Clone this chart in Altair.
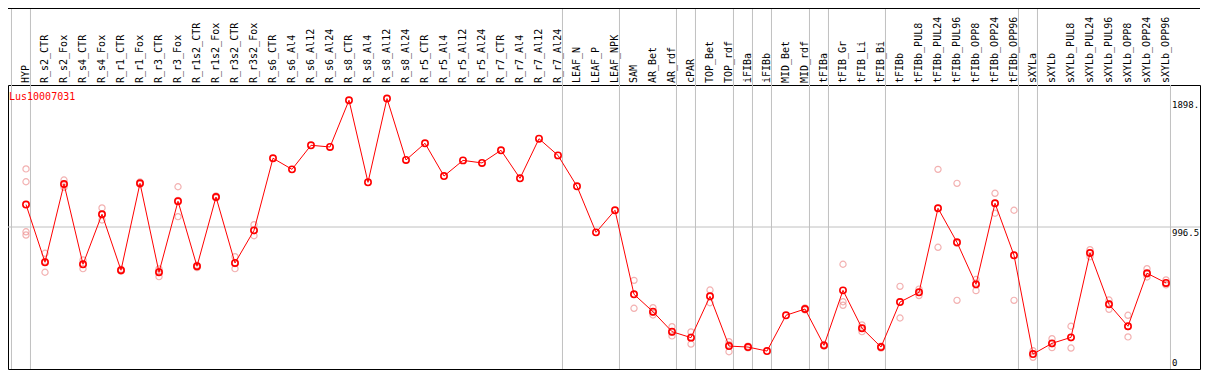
import altair as alt
import pandas as pd

gene = "Lus10007031"

categories = [
    "HYP", "R_s2_CTR", "R_s2_Fox", "R_s4_CTR", "R_s4_Fox", "R_r1_CTR", "R_r1_Fox",
    "R_r3_CTR", "R_r3_Fox", "R_r1s2_CTR", "R_r1s2_Fox", "R_r3s2_CTR", "R_r3s2_Fox",
    "R_s6_CTR", "R_s6_Al4", "R_s6_Al12", "R_s6_Al24", "R_s8_CTR", "R_s8_Al4",
    "R_s8_Al12", "R_s8_Al24", "R_r5_CTR", "R_r5_Al4", "R_r5_Al12", "R_r5_Al24",
    "R_r7_CTR", "R_r7_Al4", "R_r7_Al12", "R_r7_Al24", "LEAF_N", "LEAF_P", "LEAF_NPK",
    "SAM", "AR_Bet", "AR_rdf", "cPAR", "TOP_Bet", "TOP_rdf", "iFIBa", "iFIBb",
    "MID_Bet", "MID_rdf", "tFIBa", "tFIB_Gr", "tFIB_Li", "tFIB_Bi", "tFIBb",
    "tFIBb_PUL8", "tFIBb_PUL24", "tFIBb_PUL96", "tFIBb_OPP8", "tFIBb_OPP24",
    "tFIBb_OPP96", "sXYLa", "sXYLb", "sXYLb_PUL8", "sXYLb_PUL24", "sXYLb_PUL96",
    "sXYLb_OPP8", "sXYLb_OPP24", "sXYLb_OPP96",
]

means = [
    1154, 749, 1298, 735, 1086, 693, 1303, 679, 1177, 721, 1207, 744, 973,
    1479, 1401, 1570, 1558, 1886, 1310, 1898, 1467, 1584, 1354, 1464, 1446,
    1535, 1338, 1616, 1499, 1282, 959, 1114,
    524, 402, 262, 220, 510, 161, 154, 126, 377, 421, 166, 552, 286, 154, 470,
    538, 1128, 889, 594, 1163, 798, 105, 180, 222, 814, 454, 300, 672, 604,
]

N = None
rep_a = [1404, 812, 1326, 765, 1130, 700, 1312, 648, 1279, 728, 1214, 788, 1013,
         N, N, N, N, N, N, N, N, N, N, N, N, N, N, N, N, N, N, N,
         622, 430, 297, 260, 554, 192, 160, N, N, 428, 172, 735, 309, 160, 580,
         561, 1401, 1303, 629, 1233, 1114, 82, 213, 300, 837, 484, 377, 704, 625]
rep_b = [1314, 679, 1293, 704, 1046, 686, 1296, 702, 1069, 712, 1200, 704, 935,
         N, N, N, N, N, N, N, N, N, N, N, N, N, N, N, N, N, N, N,
         426, 379, 232, 175, 465, 121, 148, N, N, 414, 160, 472, 262, 147, 358,
         515, 854, 482, 550, 1093, 482, 128, 150, 147, 788, 419, 225, 646, 590]
rep_c = [963, 756, 1275, 736, 1082, 693, 1301, 687, 1183, 723, 1207, 740, 971,
         N, N, N, N, N, N, N, N, N, N, N, N, N, N, N, N, N, N, N,
         524, 397, 257, 225, 511, 170, 154, N, N, 421, 166, 447, 287, 155, 472,
         538, 1129, 882, 603, 1163, 798, 105, 177, 219, 817, 459, 298, 666, 597]
rep_d = [940] + [N] * 60

# group boundaries (vertical separators) after these category indices
group_ends = [0, 1, 29, 32, 35, 36, 38, 39, 40, 42, 43, 46, 53, 54]
last_end = [61]

axis_values = [1898, 996.5]
axis_labels = ["1898.", "996.5"]
zero_value = [0]
zero_label = ["0"]

FONT = "DejaVu Sans Mono"
W, H = 1192, 284

idx = list(range(1, len(categories) + 1))
df_mean = pd.DataFrame({"idx": idx, "cat": categories, "mean": means})
rows = []
for arr in (rep_a, rep_b, rep_c, rep_d):
    for i, v in zip(idx, arr):
        if v is not None:
            rows.append({"idx": i, "rep": v})
df_rep = pd.DataFrame(rows)

xscale = alt.Scale(domain=[0, 62], range=[-1, 1177], nice=False, zero=False)
yscale = alt.Scale(domain=[0, 1993], nice=False, zero=True)

grid_df = pd.DataFrame({"g": [e + 0.235 for e in group_ends]})
last_df = pd.DataFrame({"g": [e + 0.235 for e in last_end]})

vgrid = alt.Chart(grid_df).mark_rule(color="#c0c0c0", strokeWidth=1).encode(
    x=alt.X("g:Q", scale=xscale, axis=None),
    y=alt.value(-77), y2=alt.value(H),
)
vlast = alt.Chart(last_df).mark_rule(color="#c0c0c0", strokeWidth=1).encode(
    x=alt.X("g:Q", scale=xscale, axis=None),
    y=alt.value(0), y2=alt.value(H),
)
hgrid = alt.Chart(pd.DataFrame({"v": [996.5]})).mark_rule(color="#c0c0c0", strokeWidth=1).encode(
    y=alt.Y("v:Q", scale=yscale, axis=None),
    x=alt.value(0), x2=alt.value(W),
)
top_border = alt.Chart(pd.DataFrame({"v": [0]})).mark_rule(color="black", strokeWidth=1).encode(
    x=alt.value(0), x2=alt.value(W), y=alt.value(-76.5),
)

cat_labels = alt.Chart(df_mean).mark_text(
    angle=270, align="left", baseline="middle", color="black", font=FONT, fontSize=10
).encode(
    x=alt.X("idx:Q", scale=xscale, axis=None),
    y=alt.value(-2),
    text="cat:N",
)

reps = alt.Chart(df_rep).mark_point(
    shape="circle", filled=False, color="#ee9090", size=38, strokeWidth=1.2
).encode(
    x=alt.X("idx:Q", scale=xscale, axis=None),
    y=alt.Y("rep:Q", scale=yscale, axis=None),
)

line = alt.Chart(df_mean).mark_line(color="#ff0000", strokeWidth=1).encode(
    x=alt.X("idx:Q", scale=xscale, axis=None),
    y=alt.Y("mean:Q", scale=yscale, axis=None),
    order="idx:Q",
)

pts = alt.Chart(df_mean).mark_point(
    shape="circle", filled=False, color="#ff0000", size=40, strokeWidth=1.6, opacity=1
).encode(
    x=alt.X("idx:Q", scale=xscale, axis=None),
    y=alt.Y("mean:Q", scale=yscale, axis=None),
)

title = alt.Chart(pd.DataFrame({"t": [gene]})).mark_text(
    align="left", baseline="alphabetic", color="#ff0000", font=FONT, fontSize=10
).encode(x=alt.value(1), y=alt.value(15), text="t:N")

ylab = alt.Chart(pd.DataFrame({"v": axis_values, "l": axis_labels})).mark_text(
    align="left", baseline="top", color="black", font=FONT, fontSize=9, dy=2
).encode(
    x=alt.value(1164),
    y=alt.Y("v:Q", scale=yscale, axis=None),
    text="l:N",
)
ylab0 = alt.Chart(pd.DataFrame({"v": zero_value, "l": zero_label})).mark_text(
    align="left", baseline="alphabetic", color="black", font=FONT, fontSize=9, dy=-3
).encode(
    x=alt.value(1164),
    y=alt.Y("v:Q", scale=yscale, axis=None),
    text="l:N",
)

chart = alt.layer(
    vgrid, vlast, hgrid, top_border, cat_labels, reps, line, pts, title, ylab, ylab0
).properties(
    width=W, height=H,
    autosize=alt.AutoSizeParams(type="none"),
    padding={"left": 0, "top": 77, "right": 1, "bottom": 1},
    background="white",
).configure_view(stroke="black", strokeWidth=1)

chart.save("out.html", embed_options={"renderer": "svg", "actions": False})
